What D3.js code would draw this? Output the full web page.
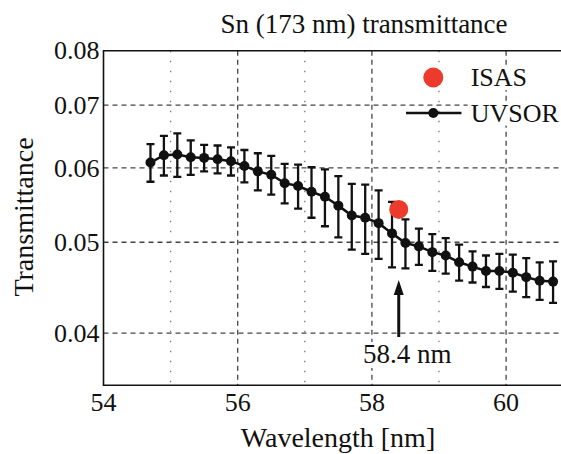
<!DOCTYPE html>
<html>
<head>
  <meta charset='utf-8'>
  <title>Sn transmittance</title>
  <script src="https://cdn.jsdelivr.net/npm/d3@7"></script>
  <style>
    body { margin: 0; background: #fff; }
    svg text { font-family: "Liberation Serif", "DejaVu Serif", serif; fill: #111; }
  </style>
</head>
<body>
<svg width=561 height=454 font-family="Liberation Serif, DejaVu Serif, serif"></svg>
<script>
  // UVSOR measurement (wavelength in nm)
  const wavelength = [54.7, 54.9, 55.1, 55.3, 55.5, 55.7, 55.9, 56.1, 56.3, 56.5, 56.7,
                      56.9, 57.1, 57.3, 57.5, 57.7, 57.9, 58.1, 58.3, 58.5, 58.7,
                      58.9, 59.1, 59.3, 59.5, 59.7, 59.9, 60.1, 60.3, 60.5, 60.7];
  const transmit = [0.0608, 0.0619, 0.0620, 0.0616, 0.0615, 0.0613, 0.0610, 0.0603, 0.0595, 0.0590, 0.0578,
                    0.0574, 0.0566, 0.0559, 0.0547, 0.0534, 0.0531, 0.0524, 0.0511, 0.0499, 0.0495,
                    0.0488, 0.0484, 0.0476, 0.0471, 0.0466, 0.0466, 0.0464, 0.0459, 0.0455, 0.0454];
  const transmitErr = [0.0028, 0.0030, 0.0033, 0.0026, 0.0020, 0.0021, 0.0021, 0.0024, 0.0027, 0.0028, 0.0028,
                       0.0031, 0.0035, 0.0039, 0.0041, 0.0043, 0.0045, 0.0044, 0.0041, 0.0030, 0.0022,
                       0.0022, 0.0021, 0.0021, 0.0018, 0.0018, 0.0020, 0.0021, 0.0022, 0.0021, 0.0023];

  // ISAS single point
  const isasWavelength = [58.4];
  const isasTransmit = [0.0542];

  const xTicks = [54, 56, 58, 60, 62];
  const xMinor = [55, 57, 59, 61];
  const yTicks = [0.04, 0.05, 0.06, 0.07, 0.08];
  const yTickLabels = ['0.04', '0.05', '0.06', '0.07', '0.08'];
  const legendLabels = ['ISAS', 'UVSOR'];

  const red = '#ec3b2c';
  const mLeft = 103.5, mRight = 640.3, mTop = 50.7, mBottom = 385.3;

  const svg = d3.select('svg');
  svg.append('rect').attr('width', 561).attr('height', 454).attr('fill', '#fff');

  const x = d3.scaleLinear().domain([54, 62]).range([mLeft, mRight]);
  const y = d3.scaleLog().domain([0.0352, 0.08]).range([mBottom, mTop]);

  svg.append('clipPath').attr('id', 'plot')
    .append('rect').attr('x', mLeft).attr('y', mTop).attr('width', mRight - mLeft).attr('height', mBottom - mTop);

  const grid = svg.append('g').attr('clip-path', 'url(#plot)');

  // dashed major grid
  grid.selectAll('.hg').data(yTicks.slice(0, 4)).enter().append('line')
    .attr('x1', mLeft).attr('x2', mRight)
    .attr('y1', d => y(d)).attr('y2', d => y(d))
    .attr('stroke', '#444').attr('stroke-width', 1.3).attr('stroke-dasharray', '5,4');
  grid.selectAll('.vg').data(xTicks.slice(1)).enter().append('line')
    .attr('x1', d => x(d)).attr('x2', d => x(d))
    .attr('y1', mTop).attr('y2', mBottom)
    .attr('stroke', '#444').attr('stroke-width', 1.3).attr('stroke-dasharray', '5,4');
  // dotted minor grid
  grid.selectAll('.vm').data(xMinor).enter().append('line')
    .attr('x1', d => x(d)).attr('x2', d => x(d))
    .attr('y1', mTop).attr('y2', mBottom)
    .attr('stroke', '#777').attr('stroke-width', 1.3).attr('stroke-dasharray', '1.5,8.5');

  // frame (left, top, bottom)
  svg.append('path')
    .attr('d', `M${mRight},${mTop}H${mLeft}V${mBottom}H${mRight}`)
    .attr('fill', 'none').attr('stroke', '#111').attr('stroke-width', 1.6);

  // tick labels
  svg.selectAll('.xt').data(xTicks.slice(0, 4)).enter().append('text')
    .attr('x', d => x(d)).attr('y', 411)
    .attr('text-anchor', 'middle').attr('font-size', 26)
    .text(d => d);
  svg.selectAll('.yt').data(yTicks).enter().append('text')
    .attr('x', 99.5).attr('y', d => y(d)).attr('dy', '0.33em')
    .attr('text-anchor', 'end').attr('font-size', 26)
    .text((d, i) => yTickLabels[i]);

  // labels
  svg.append('text').attr('x', 364).attr('y', 33)
    .attr('text-anchor', 'middle').attr('font-size', 27)
    .text('Sn (173 nm) transmittance');
  svg.append('text').attr('x', 338).attr('y', 447)
    .attr('text-anchor', 'middle').attr('font-size', 28)
    .text('Wavelength [nm]');
  svg.append('text').attr('transform', 'translate(33,217) rotate(-90)')
    .attr('text-anchor', 'middle').attr('font-size', 28)
    .text('Transmittance');

  // annotation with white box behind
  const ann = svg.append('g');
  const annText = ann.append('text').attr('x', 363).attr('y', 363)
    .attr('font-size', 27).text('58.4 nm');
  const bb = annText.node().getBBox();
  ann.insert('rect', 'text').attr('x', bb.x - 2).attr('y', bb.y + 3)
    .attr('width', bb.width + 4).attr('height', bb.height - 4).attr('fill', '#fff');
  const ax = x(isasWavelength[0]);
  ann.append('line').attr('x1', ax).attr('x2', ax).attr('y1', 337).attr('y2', 292)
    .attr('stroke', '#111').attr('stroke-width', 3);
  ann.append('path').attr('d', `M${ax},280 L${ax - 5},295 L${ax + 5},295 Z`).attr('fill', '#111');

  // UVSOR series
  const data = wavelength.map((w, i) => ({ w: w, t: transmit[i], e: transmitErr[i] }));
  const plot = svg.append('g').attr('clip-path', 'url(#plot)');

  const bars = plot.selectAll('.eb').data(data).enter().append('g').attr('stroke', '#111').attr('stroke-width', 2.3);
  bars.append('line')
    .attr('x1', d => x(d.w)).attr('x2', d => x(d.w))
    .attr('y1', d => y(d.t + d.e)).attr('y2', d => y(d.t - d.e));
  bars.append('line')
    .attr('x1', d => x(d.w) - 4).attr('x2', d => x(d.w) + 4)
    .attr('y1', d => y(d.t + d.e)).attr('y2', d => y(d.t + d.e));
  bars.append('line')
    .attr('x1', d => x(d.w) - 4).attr('x2', d => x(d.w) + 4)
    .attr('y1', d => y(d.t - d.e)).attr('y2', d => y(d.t - d.e));

  plot.append('path').datum(data)
    .attr('d', d3.line().x(d => x(d.w)).y(d => y(d.t)))
    .attr('fill', 'none').attr('stroke', '#111').attr('stroke-width', 2.5);
  plot.selectAll('.pt').data(data).enter().append('circle')
    .attr('cx', d => x(d.w)).attr('cy', d => y(d.t)).attr('r', 5).attr('fill', '#111');

  // ISAS point
  plot.selectAll('.isas').data(isasWavelength).enter().append('circle')
    .attr('cx', d => x(d)).attr('cy', (d, i) => y(isasTransmit[i])).attr('r', 9.5).attr('fill', red);

  // legend
  const legend = svg.append('g');
  legendLabels.forEach((lab, i) => {
    const ly = 77.5 + i * 35.5;
    const t = legend.append('text').attr('x', 470.7).attr('y', ly).attr('dy', '0.33em')
      .attr('font-size', 26).text(lab);
    const b = t.node().getBBox();
    legend.insert('rect', 'text').attr('x', b.x - 3).attr('y', b.y + 3)
      .attr('width', b.width + 6).attr('height', b.height - 5).attr('fill', '#fff');
  });
  legend.append('circle').attr('cx', 433.3).attr('cy', 77.5).attr('r', 10).attr('fill', red);
  legend.append('line').attr('x1', 406).attr('x2', 461.5).attr('y1', 113).attr('y2', 113)
    .attr('stroke', '#111').attr('stroke-width', 2.5);
  legend.append('circle').attr('cx', 433.3).attr('cy', 113).attr('r', 5).attr('fill', '#111');
</script>
</body>
</html>
